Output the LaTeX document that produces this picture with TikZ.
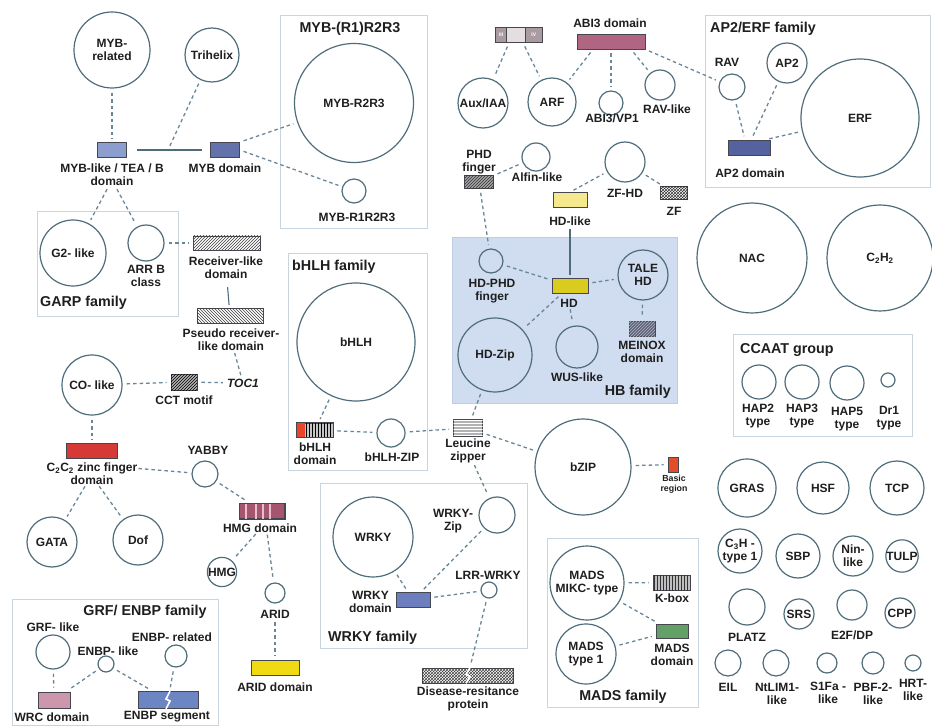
\documentclass[tikz,border=0pt]{standalone}
\usepackage{fontspec}
\setmainfont{Liberation Sans}
\usetikzlibrary{patterns,calc}
\definecolor{circcol}{RGB}{78,108,122}
\definecolor{conncol}{RGB}{105,135,152}
\definecolor{txt}{RGB}{30,30,30}
\definecolor{famcol}{RGB}{200,212,222}
\definecolor{hbfill}{RGB}{208,220,240}
\definecolor{hbline}{RGB}{190,205,225}
\definecolor{domline}{RGB}{70,70,80}
\definecolor{myblikec}{RGB}{140,158,205}
\definecolor{mybdc}{RGB}{100,114,172}
\definecolor{abic}{RGB}{176,102,128}
\definecolor{ap2c}{RGB}{84,98,160}
\definecolor{hdlikec}{RGB}{246,232,140}
\definecolor{hdc}{RGB}{218,204,30}
\definecolor{c2c2c}{RGB}{214,58,52}
\definecolor{hmgc}{RGB}{165,85,110}
\definecolor{hmgs}{RGB}{235,190,205}
\definecolor{aridc}{RGB}{240,218,20}
\definecolor{wrcc}{RGB}{204,150,172}
\definecolor{enbpc}{RGB}{108,134,196}
\definecolor{wrkydc}{RGB}{108,126,190}
\definecolor{madsdc}{RGB}{98,160,102}
\definecolor{basicc}{RGB}{226,78,40}
\definecolor{bhlhred}{RGB}{232,70,40}
\definecolor{auxa}{RGB}{170,155,160}
\definecolor{auxb}{RGB}{228,222,224}
\definecolor{hatchc}{RGB}{60,60,60}
\definecolor{meinoxc}{RGB}{95,100,125}
\definecolor{meinoxh}{RGB}{175,180,195}
\newcommand\lf{\fontsize{12}{13}\selectfont\bfseries}
\newcommand\tf{\fontsize{14.3}{16}\selectfont\bfseries}
\newcommand\smf{\fontsize{8.8}{10}\selectfont\bfseries}
\newcommand\tnf{\fontsize{5}{5}\selectfont\bfseries}
\tikzset{
 circ/.style={circle, draw=circcol, line width=1.2pt, inner sep=0pt, font=\lf, text=txt, align=center, minimum size=#1},
 dom/.style 2 args={rectangle, draw=domline, line width=0.7pt, inner sep=0pt, minimum width=#1, minimum height=#2},
 lab/.style={font=\lf, text=txt, align=center, inner sep=0pt},
 ttl/.style={font=\tf, text=txt, inner sep=0pt},
 fambox/.style 2 args={rectangle, draw=famcol, line width=0.8pt, inner sep=0pt, minimum width=#1, minimum height=#2},
 conn/.style={draw=conncol, line width=1.3pt, dash pattern=on 3.5pt off 3pt, shorten <=4pt, shorten >=4pt},
 sline/.style={draw=circcol, line width=1.1pt, shorten <=3pt, shorten >=3pt},
 brk/.style={draw=white, line width=1.6pt},
}
\begin{document}
\begin{tikzpicture}[x=1pt,y=-1pt]
\useasboundingbox (0,0) rectangle (932,727);
% family boxes
\node[fambox={147}{213}] (fmyb) at (353.5,121.5) {};
\node[fambox={225}{172}] (fap2) at (817.5,101) {};
\node[fambox={141}{105}] (fgarp) at (107.5,263.5) {};
\node[fambox={139}{217}] (fbhlh) at (357.5,361.5) {};
\node[rectangle, fill=hbfill, draw=hbline, line width=0.5pt, inner sep=0pt, minimum width=225, minimum height=166] (fhb) at (564.5,320) {};
\node[fambox={179}{102}] (fccaat) at (822.5,385) {};
\node[fambox={207}{165}] (fwrky) at (423.5,565.5) {};
\node[fambox={151}{169}] (fmads) at (622.5,622.5) {};
\node[fambox={206}{126}] (fgrf) at (115,662) {};
% titles
\node[ttl] (tmyb) at (350,29) {MYB-(R1)R2R3};
\node[ttl, anchor=west] (tap2) at (710,29) {AP2/ERF family};
\node[ttl, anchor=west] (tgarp) at (40,303) {GARP family};
\node[ttl, anchor=west] (tbhlh) at (292,267) {bHLH family};
\node[ttl, anchor=east] (thb) at (671,392) {HB family};
\node[ttl, anchor=west] (tccaat) at (740,350) {CCAAT group};
\node[ttl, anchor=west] (twrky) at (328,638) {WRKY family};
\node[ttl] (tmads) at (623,697) {MADS family};
\node[ttl] (tgrf) at (145,612) {GRF/ ENBP family};
% ---------- circles
\node[circ=76] (mybrel) at (112,50) {MYB-\\related};
\node[circ=54] (trih) at (212,55) {Trihelix};
\node[circ=119] (r2r3) at (354,103) {MYB-R2R3};
\node[circ=24] (r1r2r3) at (354,191) {};
\node[circ=66] (g2) at (73,253) {G2- like};
\node[circ=36] (arrb) at (146,243) {};
\node[circ=60] (co) at (92,385) {CO- like};
\node[circ=26] (yabby) at (205,474) {};
\node[circ=50] (gata) at (52,542) {GATA};
\node[circ=50] (dof) at (138,540) {Dof};
\node[circ=28] (hmg) at (222,572) {HMG};
\node[circ=20] (arid) at (275,593) {};
\node[circ=34] (grf) at (53,652) {};
\node[circ=16] (enbplike) at (106,664) {};
\node[circ=22] (enbprel) at (176,656) {};
\node[circ=50] (aux) at (483,103) {Aux/IAA};
\node[circ=48] (arf) at (552,102) {ARF};
\node[circ=24] (abivp) at (611,103) {};
\node[circ=30] (ravlike) at (660,85) {};
\node[circ=26] (rav) at (732,87) {};
\node[circ=40] (ap2) at (787,63) {AP2};
\node[circ=118] (erf) at (860,118) {ERF};
\node[circ=28] (alfin) at (536,157) {};
\node[circ=40] (zfhd) at (625,162) {};
\node[circ=24] (hdphd) at (491,261) {};
\node[circ=50] (tale) at (643,275) {TALE\\HD};
\node[circ=74] (hdzip) at (495,355) {HD-Zip};
\node[circ=42] (wus) at (577,347) {};
\node[circ=118] (bhlh) at (356,342) {bHLH};
\node[circ=28] (bhlhzip) at (391,433) {};
\node[circ=96] (bzip) at (583,467) {bZIP};
\node[circ=80] (wrky) at (373,537) {WRKY};
\node[circ=36] (wrkyzip) at (497,515) {};
\node[circ=16] (lrr) at (489,590) {};
\node[circ=74] (mikc) at (587,583) {MADS\\MIKC- type};
\node[circ=60] (mads1) at (586,654) {MADS\\type 1};
\node[circ=110] (nac) at (752,258) {NAC};
\node[circ=106] (c2h2) at (880,258) {C\textsubscript{2}H\textsubscript{2}};
\node[circ=34] (hap2) at (759,382) {};
\node[circ=34] (hap3) at (802,382) {};
\node[circ=34] (hap5) at (847,383) {};
\node[circ=14] (dr1) at (888,380) {};
\node[circ=58] (gras) at (747,488) {GRAS};
\node[circ=52] (hsf) at (823,488) {HSF};
\node[circ=54] (tcp) at (897,488) {TCP};
\node[circ=44] (c3h) at (740,551) {C\textsubscript{3}H -\\type 1};
\node[circ=44] (sbp) at (798,556) {SBP};
\node[circ=40] (nin) at (853,556) {Nin-\\like};
\node[circ=30] (tulp) at (902,556) {TULP};
\node[circ=36] (platz) at (747,607) {};
\node[circ=30] (srs) at (799,614) {SRS};
\node[circ=30] (e2f) at (852,605) {};
\node[circ=30] (cpp) at (900,613) {CPP};
\node[circ=26] (eil) at (728,663) {};
\node[circ=26] (ntlim) at (776,663) {};
\node[circ=20] (s1fa) at (827,663) {};
\node[circ=22] (pbf) at (873,663) {};
\node[circ=16] (hrt) at (913,663) {};
% ---------- domain boxes
\node[dom={29}{15}, fill=myblikec] (myblike) at (112,150) {};
\node[dom={29}{15}, fill=mybdc] (mybd) at (225,150) {};
\node[dom={67}{14}, fill=white, postaction={pattern=north east lines, pattern color=hatchc}] (recd) at (227,243) {};
\node[dom={66}{15}, fill=white, postaction={pattern=north west lines, pattern color=hatchc}] (pseud) at (230,316) {};
\node[dom={26}{16}, fill=gray!60, postaction={pattern=north east lines, pattern color=black}] (cct) at (184,382) {};
\node[dom={51}{15}, fill=c2c2c] (c2c2) at (92,451) {};
\node[dom={45}{15}, fill=hmgc] (hmgd) at (262,511) {};
\node[dom={48}{15}, fill=aridc] (aridd) at (275,668) {};
\node[dom={32}{16}, fill=wrcc] (wrc) at (54,700) {};
\node[dom={60}{17}, fill=enbpc] (enbpseg) at (168,700) {};
\node[dom={46}{15}, fill=auxb] (auxd) at (519,35) {};
\node[dom={68}{15}, fill=abic] (abi3d) at (611,41.5) {};
\node[dom={42}{15}, fill=ap2c] (ap2d) at (749,148) {};
\node[dom={29}{13}, fill=gray!70, postaction={pattern=north east lines, pattern color=black!80}] (phd) at (479,182) {};
\node[dom={34}{15}, fill=hdlikec] (hdlike) at (570,200) {};
\node[dom={27}{13}, fill=white, postaction={pattern=crosshatch, pattern color=black!80}] (zf) at (674,193) {};
\node[dom={36}{15}, fill=hdc] (hd) at (570,286) {};
\node[dom={26}{15}, fill=meinoxc, postaction={pattern=north east lines, pattern color=meinoxh}] (meinox) at (642,329) {};
\node[dom={29}{17}, fill=gray!60, postaction={pattern=horizontal lines, pattern color=white}] (leu) at (468,428) {};
\node[dom={36}{14}, fill=gray!45, postaction={pattern=vertical lines, pattern color=black}] (bhlhd) at (315,430) {};
\node[dom={10}{15}, fill=basicc] (basic) at (673,464.5) {};
\node[dom={34}{15}, fill=wrkydc] (wrkyd) at (413,600) {};
\node[dom={91}{15}, fill=white, postaction={pattern=crosshatch, pattern color=black!75}] (disease) at (468,675.5) {};
\node[dom={37}{15}, fill=gray!50, postaction={pattern=vertical lines, pattern color=black!80}] (kbox) at (671.5,582.5) {};
\node[dom={32}{14}, fill=madsdc] (madsd) at (672,631) {};
% domain details
\fill[auxa] (auxd.north west) rectangle ([xshift=11pt]auxd.south west);
\fill[auxa] ([xshift=-17pt]auxd.north east) rectangle (auxd.south east);
\draw[domline, line width=0.7pt] (auxd.north west) rectangle (auxd.south east);
\draw[domline, line width=0.5pt] ([xshift=11pt]auxd.north west) -- ([xshift=11pt]auxd.south west);
\draw[domline, line width=0.5pt] ([xshift=-17pt]auxd.north east) -- ([xshift=-17pt]auxd.south east);
\node[font=\tnf, text=white, inner sep=0pt] (aux3) at ([xshift=5.5pt]auxd.west) {III};
\node[font=\tnf, text=white, inner sep=0pt] (aux4) at ([xshift=-8.5pt]auxd.east) {IV};
\fill[bhlhred] (bhlhd.north west) rectangle ([xshift=8pt]bhlhd.south west);
\draw[domline, line width=0.7pt] (bhlhd.north west) rectangle (bhlhd.south east);
\foreach \s in {7,17,24,31}{
  \draw[hmgs, line width=1.6pt] ([xshift=\s pt]hmgd.north west) -- ([xshift=\s pt]hmgd.south west);}
\draw[domline, line width=0.7pt] (hmgd.north west) rectangle (hmgd.south east);
\draw[brk] ([xshift=2pt]enbpseg.north) -- ([xshift=-2pt,yshift=1pt]enbpseg.center) -- ([xshift=2pt,yshift=-1pt]enbpseg.center) -- ([xshift=-2pt]enbpseg.south);
\draw[brk] ([xshift=2pt]disease.north) -- ([xshift=-2pt,yshift=1pt]disease.center) -- ([xshift=2pt,yshift=-1pt]disease.center) -- ([xshift=-2pt]disease.south);
% ---------- labels
\node[lab] (myblikel) at (112,174.5) {MYB-like / TEA / B\\domain};
\node[lab] (mybdl) at (225,168) {MYB domain};
\node[lab] (r1r2r3l) at (357,217) {MYB-R1R2R3};
\node[lab] (arrbl) at (146,276) {ARR B\\class};
\node[lab] (recl) at (226,268) {Receiver-like\\domain};
\node[lab] (pseudl) at (231,340) {Pseudo receiver-\\like domain};
\node[lab, font=\lf\itshape] (toc1) at (243,383) {TOC1};
\node[lab] (cctl) at (184,400) {CCT motif};
\node[lab] (c2c2l) at (92,473.5) {C\textsubscript{2}C\textsubscript{2} zinc finger\\domain};
\node[lab] (yabbyl) at (208,450) {YABBY};
\node[lab] (hmgdl) at (260,528) {HMG domain};
\node[lab] (aridl) at (275,614) {ARID};
\node[lab] (ariddl) at (275,687) {ARID domain};
\node[lab] (grfl) at (53,627) {GRF- like};
\node[lab] (enbplikel) at (108,651) {ENBP- like};
\node[lab] (enbprell) at (172,637) {ENBP- related};
\node[lab] (wrcl) at (52,717) {WRC domain};
\node[lab] (enbpsegl) at (167,717) {ENBP segment};
\node[lab] (abi3l) at (610,23) {ABI3 domain};
\node[lab] (abivpl) at (612,118) {ABI3/VP1};
\node[lab] (ravlikel) at (667,109) {RAV-like};
\node[lab] (ravl) at (727,62) {RAV};
\node[lab] (ap2dl) at (750,173) {AP2 domain};
\node[lab] (phdl) at (479,162.5) {PHD\\finger};
\node[lab] (alfinl) at (537,177) {Alfin-like};
\node[lab] (hdlikel) at (570,221) {HD-like};
\node[lab] (zfhdl) at (625,193) {ZF-HD};
\node[lab] (zfl) at (674,211) {ZF};
\node[lab] (hdphdl) at (492,291) {HD-PHD\\finger};
\node[lab] (hdl) at (569,303) {HD};
\node[lab] (meinoxl) at (642,351.5) {MEINOX\\domain};
\node[lab] (wusl) at (577,377) {WUS-like};
\node[lab] (leul) at (468,451) {Leucine\\zipper};
\node[lab] (bhlhdl) at (315,454) {bHLH\\domain};
\node[lab] (bhlhzipl) at (392,457) {bHLH-ZIP};
\node[lab, font=\smf] (basicl) at (674,484.5) {Basic\\region};
\node[lab, anchor=east] (wrkydl) at (392,602) {WRKY\\domain};
\node[lab] (wrkyzipl) at (453,521) {WRKY-\\Zip};
\node[lab] (lrrl) at (488,575) {LRR-WRKY};
\node[lab] (diseasel) at (468,698.5) {Disease-resitance\\protein};
\node[lab] (kboxl) at (672,598) {K-box};
\node[lab] (madsdl) at (672,654.5) {MADS\\domain};
\node[lab] (hap2l) at (758,416) {HAP2\\type};
\node[lab] (hap3l) at (802,416) {HAP3\\type};
\node[lab] (hap5l) at (847,419.5) {HAP5\\type};
\node[lab] (dr1l) at (889,418) {Dr1\\type};
\node[lab] (platzl) at (747,637) {PLATZ};
\node[lab] (e2fl) at (852,635) {E2F/DP};
\node[lab] (eill) at (728,687) {EIL};
\node[lab] (ntliml) at (777,693.5) {NtLIM1-\\like};
\node[lab] (s1fal) at (828,692.5) {S1Fa -\\like};
\node[lab] (pbfl) at (873,693.5) {PBF-2-\\like};
\node[lab] (hrtl) at (913,689.5) {HRT-\\like};
% ---------- connectors
\coordinate (mybmid) at (168,150);
\draw[conn] (mybrel) -- (myblike);
\draw[sline, shorten <=10pt, shorten >=8pt] (myblike) -- (mybd);
\draw[conn, shorten >=2pt] (trih) -- (mybmid);
\draw[conn] (mybd.north east) -- (r2r3);
\draw[conn] (mybd.east) -- (r1r2r3);
\draw[conn] ([xshift=-3pt]myblikel.south) -- (g2);
\draw[conn] ([xshift=3pt]myblikel.south) -- (arrb);
\draw[conn] (arrb) -- (recd);
\draw[sline, shorten <=8pt] (recl) -- (pseud);
\draw[conn, shorten <=2pt, shorten >=2pt] (pseudl) -- (toc1);
\draw[conn] (co) -- (cct);
\draw[conn] (cct) -- (toc1);
\draw[conn] (co) -- (c2c2);
\draw[conn, shorten <=1pt] ([yshift=-6pt]c2c2l.north east) -- (yabby);
\draw[conn, shorten <=2pt] ([xshift=-6pt]c2c2l.south) -- (gata);
\draw[conn, shorten <=2pt] ([xshift=6pt]c2c2l.south) -- (dof);
\draw[conn] (yabby) -- (hmgd);
\draw[conn, shorten <=2pt] ([xshift=-3pt]hmgdl.south) -- (hmg);
\draw[conn, shorten <=2pt] ([xshift=7pt]hmgdl.south) -- (arid);
\draw[conn] (aridl) -- (aridd);
\draw[conn] (grf) -- (wrc);
\draw[conn] (enbplike) -- (wrc);
\draw[conn] (enbplike) -- (enbpseg);
\draw[conn] (enbprel) -- (enbpseg);
\draw[conn] ([xshift=-10pt]auxd.south) -- (aux);
\draw[conn] ([xshift=4pt]auxd.south) -- (arf);
\draw[conn] ([xshift=-18pt]abi3d.south) -- (arf);
\draw[conn] (abi3d) -- (abivp);
\draw[conn] ([xshift=20pt]abi3d.south) -- (ravlike);
\draw[conn] (abi3d.south east) -- (rav);
\draw[conn] (rav) -- ([xshift=-4pt]ap2d.north);
\draw[conn] (ap2) -- ([xshift=2pt]ap2d.north);
\draw[conn] (erf) -- ([xshift=-7pt]ap2d.north east);
\draw[conn] (phd) -- (alfin);
\draw[conn] (phd) -- (hdphd);
\draw[conn] (hdlike.north) -- (zfhd);
\draw[conn] (zfhd) -- (zf);
\draw[sline] (hdlikel) -- (hd);
\draw[conn] (hdphd) -- (hd);
\draw[conn] (hd) -- (tale);
\draw[conn] (tale) -- (meinox);
\draw[conn] (hd) -- (hdzip);
\draw[conn, shorten <=2pt] (hdl) -- (wus);
\draw[conn] (hdzip) -- (leu);
\draw[conn] (bhlh) -- (bhlhd);
\draw[conn] (bhlhd) -- (bhlhzip);
\draw[conn] (bhlhzip) -- (leu);
\draw[conn] (leu) -- (bzip);
\draw[conn, shorten <=2pt] (leul) -- (wrkyzip);
\draw[conn] (bzip) -- (basic);
\draw[conn] (wrky) -- (wrkyd);
\draw[conn] (wrkyzip) -- (wrkyd);
\draw[conn] (wrkyd) -- (lrr);
\draw[conn] (lrr) -- (disease);
\draw[conn] (mikc) -- (kbox);
\draw[conn] (mikc) -- (madsd);
\draw[conn] (mads1) -- (madsd);
\end{tikzpicture}
\end{document}
